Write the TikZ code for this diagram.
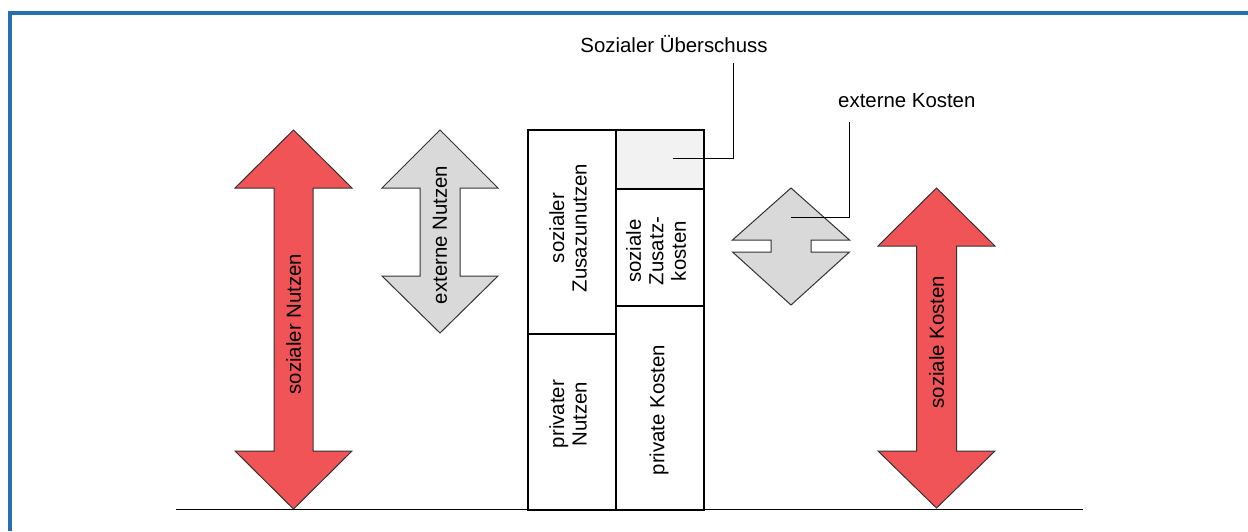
\documentclass[tikz,border=0pt]{standalone}
\usepackage{fontspec}
\setmainfont{Liberation Sans}
\definecolor{frameblue}{RGB}{36,112,176}
\definecolor{arrowred}{RGB}{240,84,87}
\definecolor{arrowgrey}{RGB}{217,217,217}
\definecolor{surplusgrey}{RGB}{242,242,242}
\begin{document}
\begin{tikzpicture}[x=1pt,y=-1pt,
  bigarrow/.style={draw=black!80,line width=1,line join=miter},
  redarrow/.style={bigarrow,fill=arrowred},
  greyarrow/.style={bigarrow,fill=arrowgrey},
  colbox/.style={draw=black,line width=1.5,minimum width=88,anchor=north west,inner sep=0},
  lbl/.style={font=\fontsize{20.4}{22.5}\selectfont,inner sep=0,align=center},
  vlbl/.style={lbl,rotate=90},
  callout/.style={draw=black,line width=1}]
\useasboundingbox (0,0) rectangle (1248,531);

% frame (top and left edges)
\draw[frameblue,line width=4] (10,531) -- (10,13) -- (1248,13);

% ground line
\coordinate (g1) at (176,509.5);
\coordinate (g2) at (1083,509.5);
\draw[line width=1.3] (g1) -- (g2);

% social benefit: double arrow
\draw[redarrow] (293.5,130) -- (352,188) -- (313,188) -- (313,451) -- (352,451)
  -- (293.5,509) -- (235,451) -- (274,451) -- (274,188) -- (235,188) -- cycle;
\node[vlbl] (sn) at (293.5,324) {sozialer Nutzen};

% external benefit
\draw[greyarrow] (440,130) -- (498,188) -- (460,188) -- (460,276) -- (498,276)
  -- (440,333) -- (382,276) -- (420,276) -- (420,188) -- (382,188) -- cycle;
\node[vlbl] (en) at (440,235) {externe Nutzen};

% column of benefits
\node[colbox,minimum height=204] (zn) at (527,129) {};
\node[colbox,minimum height=176] (pn) at (527,333) {};
\node[vlbl] (znl) at (568,228) {sozialer\\Zusazunutzen};
\node[vlbl] (pnl) at (568,414) {privater\\Nutzen};

% column of costs
\node[colbox,minimum height=59,fill=surplusgrey] (su) at (615,129) {};
\node[colbox,minimum height=117] (zk) at (615,188) {};
\node[colbox,minimum height=204] (pk) at (615,305) {};
\node[vlbl] (zkl) at (656,251) {soziale\\Zusatz-\\kosten};
\node[vlbl] (pkl) at (659,410) {private Kosten};

% external costs
\draw[greyarrow] (791,188) -- (849.5,240) -- (811,240) -- (811,252) -- (849.5,252)
  -- (791,305) -- (732.5,252) -- (771,252) -- (771,240) -- (732.5,240) -- cycle;

% social costs
\draw[redarrow] (936.5,188) -- (995,246) -- (956.5,246) -- (956.5,451) -- (995,451)
  -- (936.5,508) -- (878,451) -- (916.5,451) -- (916.5,246) -- (878,246) -- cycle;
\node[vlbl] (sk) at (936.5,342) {soziale Kosten};

% callouts
\node[lbl] (sul) at (674,44) {Sozialer Überschuss};
\coordinate (sup) at (673,158.5);
\coordinate (sut) at (733,63);
\draw[callout] (sup) -| (sut);

\node[lbl,anchor=west] (ekl) at (838,101) {externe Kosten};
\coordinate (ekp) at (791,217);
\coordinate (ekt) at (849,122);
\draw[callout] (ekp) -| (ekt);
\end{tikzpicture}
\end{document}
